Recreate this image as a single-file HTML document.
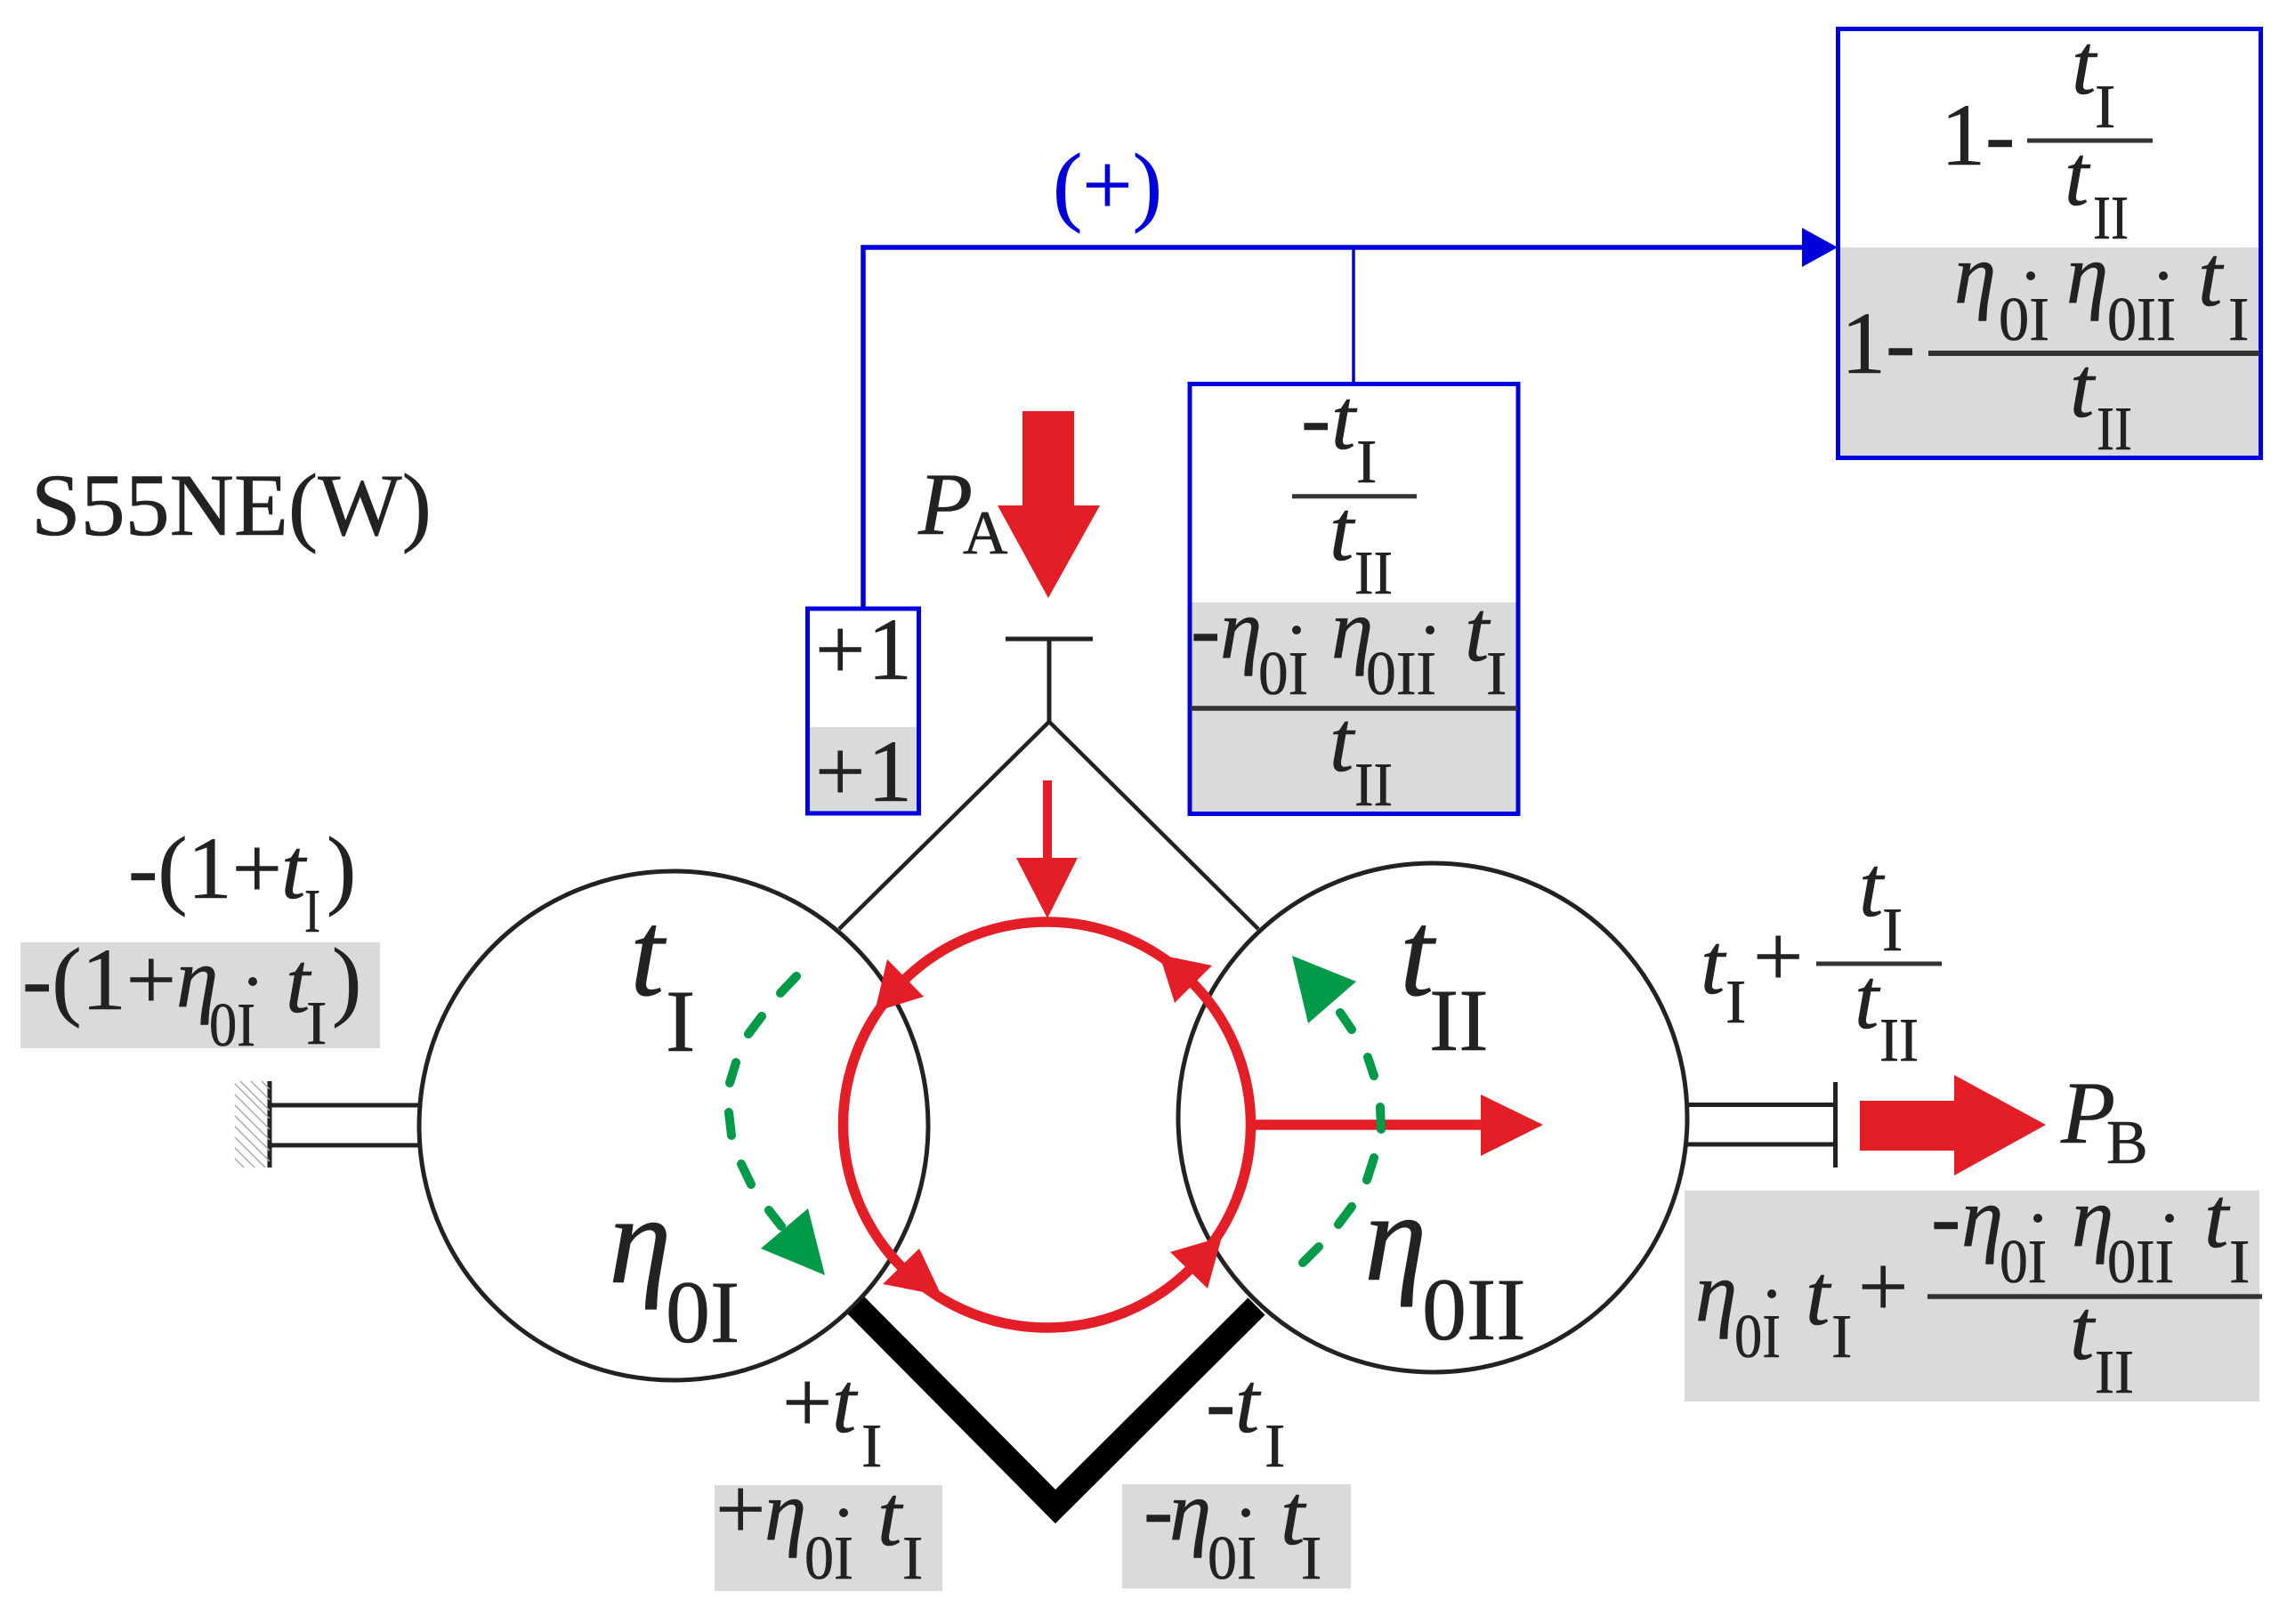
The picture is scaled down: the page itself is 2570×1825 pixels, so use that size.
<!DOCTYPE html>
<html><head><meta charset="utf-8">
<style>
html,body{margin:0;padding:0;background:#fff}
svg{display:block}
text{font-family:"Liberation Serif",serif;fill:#222;stroke:#222;stroke-width:.6}
.r{font-size:100px}
.t{font-size:98px;font-style:italic}
.e{font-size:95px;font-style:italic}
.s{font-size:70px}
.bt{font-size:138px;font-style:italic}
.be{font-size:142px;font-style:italic}
.bs{font-size:100px}
</style></head><body>
<svg width="2570" height="1825" viewBox="0 0 2570 1825" xmlns="http://www.w3.org/2000/svg">
<rect width="2570" height="1825" fill="#fff"/>
<!-- grey panels -->
<g fill="#d9dada">
<rect x="2065" y="278" width="477" height="238"/>
<rect x="1336" y="677" width="371" height="238"/>
<rect x="906" y="817" width="128" height="98"/>
<rect x="23" y="1059" width="404" height="119"/>
<rect x="803" y="1669" width="256" height="119"/>
<rect x="1261" y="1668" width="257" height="117"/>
<rect x="1893" y="1338" width="646" height="237"/>
</g>
<!-- blue -->
<g fill="none" stroke="#0000dc">
<rect x="2065.5" y="32.5" width="475" height="482" stroke-width="5"/>
<rect x="1337" y="431.5" width="369" height="483" stroke-width="5"/>
<rect x="907.5" y="684" width="125" height="230" stroke-width="5"/>
<path d="M970 682V278H2030" stroke-width="5.5"/>
<path d="M1521 278V432" stroke-width="3.5"/>
</g>
<polygon points="2025,256 2065,278 2025,300" fill="#0000dc"/>
<text x="1183" y="241" class="r" style="fill:#0000dc;stroke:#0000dc">(+)</text>
<text x="35" y="601" class="r">S55NE(W)</text>

<!-- structure -->
<g fill="none" stroke="#222">
<circle cx="757" cy="1265" r="286" stroke-width="5"/>
<circle cx="1610" cy="1256" r="286" stroke-width="5"/>
<path d="M1130 718H1228M1179 718V811" stroke-width="5"/>
<path d="M943 1044L1179 811L1414 1044" stroke-width="4.5"/>
<path d="M303 1242H471M303 1287H471M1896 1241.5H2062M1896 1286H2062" stroke-width="5"/>
<path d="M303 1215V1312M2062.5 1216V1312" stroke-width="5"/>
</g>
<path d="M962 1467L1186 1693L1412 1468" fill="none" stroke="#000" stroke-width="27"/>
<g stroke="#aaa" stroke-width="1.5">
<path d="M264 1218L303 1257M264 1230L303 1269M264 1242L303 1281M264 1254L303 1293M264 1266L303 1305M264 1278L298 1312M264 1290L286 1312M270 1215L303 1248M282 1215L303 1236M294 1215L303 1224M264 1302L274 1312"/>
</g>

<!-- red -->
<g fill="#e31e26">
<polygon points="1149,462 1207,462 1207,568 1236,568 1178,672 1121,568 1149,568"/>
<polygon points="2090,1237 2196,1237 2196,1208 2299,1264 2196,1321 2196,1293 2090,1293"/>
<polygon points="1142,964 1211,964 1177,1032"/>
<polygon points="1664,1230 1734,1264 1664,1299"/>
<polygon points="1038,1120 997,1078 983,1137"/>
<polygon points="1033,1403 992,1443 1058,1456"/>
<polygon points="1373,1390 1315,1407 1357,1448"/>
<polygon points="1362,1085 1320,1127 1303,1073"/>
</g>
<g fill="none" stroke="#e31e26">
<ellipse cx="1176.5" cy="1264" rx="229" ry="228" stroke-width="11.5"/>
<path d="M1177 877V965" stroke-width="10"/>
<path d="M1406 1264H1665" stroke-width="11.5"/>
</g>

<!-- green -->
<g fill="none" stroke="#009a49" stroke-width="10" stroke-linecap="round">
<path d="M895 1097L877 1116M856 1142L841 1162M827 1194L820 1217M819 1250L822 1276M833 1308L844 1331M864 1360L878 1378"/>
<path d="M1506 1138L1519 1157M1537 1188L1544 1209M1551 1244L1552 1269M1544 1301L1536 1326M1519 1356L1504 1376M1482 1401L1464 1419"/>
</g>
<g fill="#009a49">
<polygon points="908,1358 855,1403 927,1433"/>
<polygon points="1452,1074 1524,1103 1470,1150"/>
</g>

<!-- fraction lines -->
<g stroke="#333" fill="none">
<path d="M2278 158H2419" stroke-width="5"/>
<path d="M2167 397H2539" stroke-width="6"/>
<path d="M1452 557.7H1592" stroke-width="5"/>
<path d="M1338 796H1705" stroke-width="5.5"/>
<path d="M2041 1083H2182" stroke-width="5"/>
<path d="M2166 1457H2542" stroke-width="5.5"/>
</g>

<!-- dots -->
<g fill="#222">
<circle cx="2282" cy="310" r="5"/><circle cx="2431" cy="310" r="5"/>
<circle cx="1457" cy="708" r="5"/><circle cx="1607" cy="708" r="5"/>
<circle cx="284" cy="1103" r="5"/>
<circle cx="948" cy="1700" r="5"/><circle cx="1400" cy="1700" r="5"/>
<circle cx="1991" cy="1454" r="5"/>
<circle cx="2290" cy="1369" r="5"/><circle cx="2438" cy="1369" r="5"/>
</g>

<!-- right box white -->
<text x="2181" y="185" class="r">1-</text>
<text x="2328" y="105" class="t">t</text><text x="2354" y="143" class="s">I</text>
<text x="2320" y="230" class="t">t</text><text x="2352" y="268" class="s" textLength="40" lengthAdjust="spacingAndGlyphs">II</text>
<!-- right box grey -->
<text x="2069" y="419" class="r">1-</text>
<text x="2196" y="340" class="e">η</text><text x="2246" y="382" class="s" textLength="57" lengthAdjust="spacingAndGlyphs">0I</text>
<text x="2322" y="340" class="e">η</text><text x="2368" y="382" class="s" textLength="77" lengthAdjust="spacingAndGlyphs">0II</text>
<text x="2470" y="343" class="t">t</text><text x="2504" y="382" class="s">I</text>
<text x="2326" y="468" class="t">t</text><text x="2356" y="505" class="s" textLength="40" lengthAdjust="spacingAndGlyphs">II</text>

<!-- mid box -->
<text x="1462" y="503" class="r">-</text>
<text x="1496" y="504" class="t">t</text><text x="1524" y="542" class="s">I</text>
<text x="1494" y="629" class="t">t</text><text x="1522" y="667" class="s" textLength="43" lengthAdjust="spacingAndGlyphs">II</text>
<text x="1338" y="740" class="r">-</text>
<text x="1371" y="739" class="e">η</text><text x="1414" y="780" class="s" textLength="56" lengthAdjust="spacingAndGlyphs">0I</text>
<text x="1496" y="739" class="e">η</text><text x="1535" y="780" class="s" textLength="79" lengthAdjust="spacingAndGlyphs">0II</text>
<text x="1646" y="742" class="t">t</text><text x="1670" y="780" class="s">I</text>
<text x="1494" y="866" class="t">t</text><text x="1522" y="905" class="s" textLength="43" lengthAdjust="spacingAndGlyphs">II</text>

<!-- +1 box -->
<text x="916" y="763" class="r">+</text><text x="975" y="763" class="r">1</text>
<text x="916" y="900" class="r">+</text><text x="975" y="900" class="r">1</text>

<!-- P labels -->
<text x="1032" y="600" class="r" style="font-style:italic">P</text><text x="1082" y="622" class="s">A</text>
<text x="2316" y="1284" class="r" style="font-style:italic">P</text><text x="2367" y="1307" class="s">B</text>

<!-- left labels -->
<text x="144" y="1009" class="r">-(1+</text>
<text x="316" y="1009" class="t">t</text><text x="342" y="1047" class="s" textLength="18" lengthAdjust="spacingAndGlyphs">I</text>
<text x="367" y="1009" class="r">)</text>
<text x="25" y="1134" class="r">-(1+</text>
<text x="198" y="1131" class="e">η</text><text x="235" y="1175" class="s" textLength="52" lengthAdjust="spacingAndGlyphs">0I</text>
<text x="321" y="1137" class="t">t</text><text x="344" y="1173" class="s">I</text>
<text x="373" y="1134" class="r">)</text>

<!-- circle labels -->
<text x="708" y="1118" class="bt">t</text><text x="748" y="1181" class="bs">I</text>
<text x="684" y="1441" class="be">η</text><text x="748" y="1508" class="bs">0I</text>
<text x="1573" y="1118" class="bt">t</text><text x="1606" y="1180" class="bs">II</text>
<text x="1533" y="1438" class="be">η</text><text x="1598" y="1505" class="bs">0II</text>

<!-- bottom labels -->
<text x="879" y="1609" class="r">+</text>
<text x="935" y="1609" class="t">t</text><text x="968" y="1648" class="s">I</text>
<text x="804" y="1729" class="r">+</text>
<text x="859" y="1730" class="e">η</text><text x="904" y="1774" class="s" textLength="55" lengthAdjust="spacingAndGlyphs">0I</text>
<text x="986" y="1736" class="t">t</text><text x="1014" y="1774" class="s">I</text>
<text x="1355" y="1609" class="r">-</text>
<text x="1388" y="1609" class="t">t</text><text x="1421" y="1648" class="s">I</text>
<text x="1285" y="1730" class="r">-</text>
<text x="1314" y="1730" class="e">η</text><text x="1357" y="1774" class="s" textLength="55" lengthAdjust="spacingAndGlyphs">0I</text>
<text x="1439" y="1735" class="t">t</text><text x="1462" y="1774" class="s">I</text>

<!-- right labels -->
<text x="1911" y="1116" class="t">t</text><text x="1939" y="1149" class="s">I</text>
<text x="1970" y="1108" class="r">+</text>
<text x="2089" y="1029" class="t">t</text><text x="2115" y="1068" class="s">I</text>
<text x="2084" y="1155" class="t">t</text><text x="2112" y="1192" class="s" textLength="44" lengthAdjust="spacingAndGlyphs">II</text>

<text x="1905" y="1484" class="e">η</text><text x="1949" y="1525" class="s" textLength="52" lengthAdjust="spacingAndGlyphs">0I</text>
<text x="2029" y="1488" class="t">t</text><text x="2058" y="1525" class="s">I</text>
<text x="2088" y="1479" class="r">+</text>
<text x="2170" y="1401" class="r">-</text>
<text x="2204" y="1400" class="e">η</text><text x="2247" y="1441" class="s" textLength="53" lengthAdjust="spacingAndGlyphs">0I</text>
<text x="2328" y="1400" class="e">η</text><text x="2368" y="1441" class="s" textLength="75" lengthAdjust="spacingAndGlyphs">0II</text>
<text x="2477" y="1401" class="t">t</text><text x="2505" y="1441" class="s">I</text>
<text x="2326" y="1527" class="t">t</text><text x="2354" y="1565" class="s" textLength="44" lengthAdjust="spacingAndGlyphs">II</text>
</svg>
</body></html>
